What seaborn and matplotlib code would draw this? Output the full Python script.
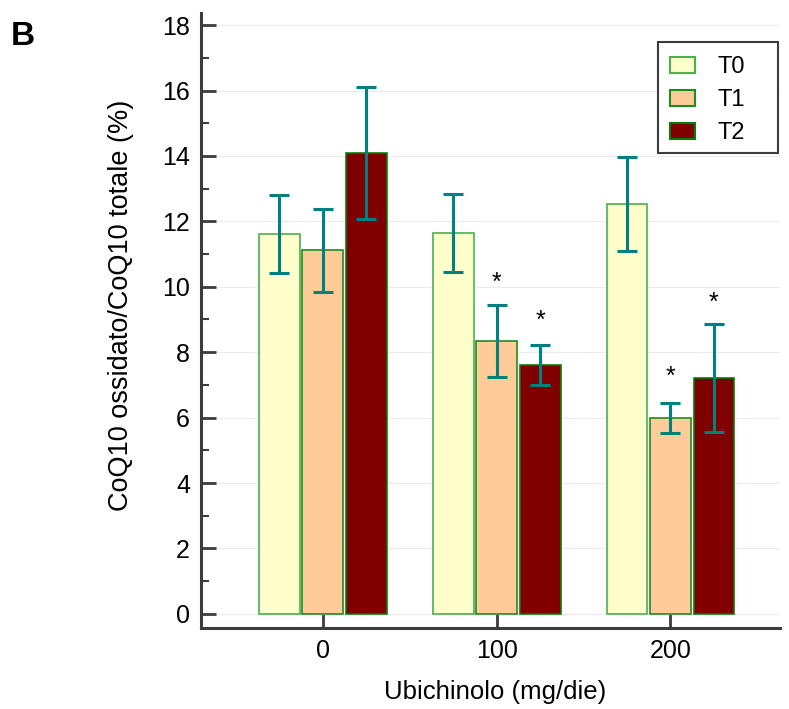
import matplotlib
matplotlib.use("Agg")
import matplotlib.pyplot as plt
import seaborn as sns
import pandas as pd
from matplotlib.ticker import MultipleLocator
from matplotlib.patches import Rectangle

doses = ["0", "100", "200"]
times = ["T0", "T1", "T2"]
t0_mean = [11.61, 11.64, 12.53]
t0_err = [1.19, 1.20, 1.44]
t1_mean = [11.12, 8.34, 5.99]
t1_err = [1.27, 1.10, 0.45]
t2_mean = [14.09, 7.61, 7.21]
t2_err = [2.03, 0.62, 1.65]
# significance marks (dose index, time, y position)
stars = [(1, "T1", 10.13), (1, "T2", 8.97), (2, "T1", 7.26), (2, "T2", 9.52)]

colors = {"T0": "#FFFFCC", "T1": "#FFCC99", "T2": "#800000"}
edges = {"T0": "#4CAF50", "T1": "#1E8C1E", "T2": "#0A7A0A"}

rows = []
for i, d in enumerate(doses):
    for t, m, e in zip(times, [t0_mean, t1_mean, t2_mean], [t0_err, t1_err, t2_err]):
        rows.append({"dose": d, "time": t, "value": m[i], "err": e[i]})
df = pd.DataFrame(rows)

sns.set_theme(style="white")
plt.rcParams["font.family"] = ["Liberation Sans", "DejaVu Sans"]
plt.rcParams["text.color"] = "black"
plt.rcParams["axes.labelcolor"] = "black"
plt.rcParams["xtick.labelcolor"] = "black"
plt.rcParams["ytick.labelcolor"] = "black"

fig = plt.figure(figsize=(7.89, 7.09), dpi=100)
ax = fig.add_axes([0.2548, 0.1143, 0.7338, 0.8674])

sns.barplot(data=df, x="dose", y="value", hue="time", order=doses, hue_order=times,
            palette=colors, width=0.75, gap=0.06, errorbar=None, ax=ax,
            linewidth=1.2, edgecolor="#1E8C1E", saturation=1)

# set edge colours per series and draw error bars
for container, t in zip(ax.containers, times):
    sub = df[df.time == t].set_index("dose").loc[doses]
    xs = []
    for patch in container:
        patch.set_edgecolor(edges[t])
        xs.append(patch.get_x() + patch.get_width() / 2)
    ax.errorbar(xs, sub["value"].values, yerr=sub["err"].values, fmt="none",
                ecolor="#008080", elinewidth=2.2, capsize=7, capthick=2.2, zorder=5)
    for (di, st, yy) in stars:
        if st == t:
            ax.text(xs[di], yy, "*", ha="center", va="center", fontsize=18,
                    color="black", zorder=6)

ax.set_xlim(-0.70, 2.63)
ax.set_ylim(-0.43, 18.37)
ax.yaxis.set_major_locator(MultipleLocator(2))
ax.yaxis.set_minor_locator(MultipleLocator(1))
ax.grid(axis="y", which="major", color="#EBEBEB", linewidth=0.8)
ax.set_axisbelow(True)

for s in ["top", "right"]:
    ax.spines[s].set_visible(False)
for s in ["left", "bottom"]:
    ax.spines[s].set_color("#3C3C3C")
    ax.spines[s].set_linewidth(2.2)

ax.tick_params(axis="both", which="major", direction="in", length=11, width=2,
               color="#3C3C3C", labelsize=18, pad=8, left=True, bottom=True,
               labelcolor="black")
ax.tick_params(axis="y", which="minor", direction="in", length=6, width=1.5,
               color="#3C3C3C", left=True)
ax.set_xticks(range(len(doses)))
ax.set_xticklabels(doses)

ax.set_xlabel("Ubichinolo (mg/die)", fontsize=18.5, labelpad=12, color="black")
ax.set_ylabel("CoQ10 ossidato/CoQ10 totale (%)", fontsize=19.5, labelpad=20,
              color="black")
ax.xaxis.label.set_x(0.508)
ax.yaxis.label.set_y(0.525)

leg = ax.legend(loc="upper left", bbox_to_anchor=(0.810, 0.930), fontsize=17,
                frameon=False, handlelength=1.06, handleheight=0.68,
                borderpad=0.0, labelspacing=0.47, handletextpad=0.97,
                borderaxespad=0.0, title=None)
for h, t in zip(leg.legend_handles, times):
    h.set_edgecolor(edges[t])
    h.set_linewidth(1.5)
for txt in leg.get_texts():
    txt.set_color("black")
ax.add_patch(Rectangle((0.789, 0.772), 0.2075, 0.181, transform=ax.transAxes,
                       fill=True, facecolor="white", edgecolor="#3C3C3C",
                       linewidth=1.5, zorder=7, clip_on=False))
leg.set_zorder(8)

fig.text(0.014, 0.948, "B", fontsize=24, fontweight="bold", ha="left", va="center",
         color="black")

fig.savefig("out.png", dpi=100)
